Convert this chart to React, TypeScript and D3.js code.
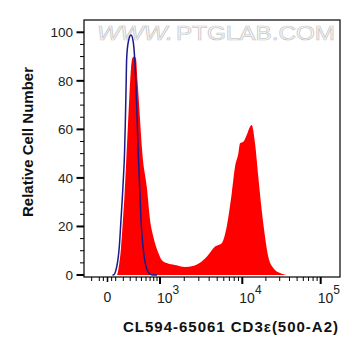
import React from "react";
import * as d3 from "d3";

// ---- data ----
const redIntensity = [60, 116, 142, 168, 195, 216, 237, 259, 286, 312, 337, 366, 397, 424, 438, 472, 520, 618, 699, 788, 945, 1050, 1215, 1540, 2040, 2550, 3100, 3740, 4700, 5660, 6500, 7470, 8180, 8960, 9390, 10300, 11380, 12540, 13180, 14530, 16000, 17680, 19490, 21470, 24860, 30270, 37170];
const redCount = [0, 0, 4, 11, 23, 33, 45, 58, 73, 85, 89.5, 90, 89, 80, 75.5, 64, 50, 36.4, 22.7, 15.8, 9.1, 6.2, 4.9, 4.1, 3.3, 3.7, 5, 7.5, 11.7, 13.1, 19.9, 33.7, 44.6, 50.1, 54.3, 54.9, 57.7, 61.1, 61.8, 54.3, 40.5, 26.8, 15.8, 7.5, 2.9, 0.8, 0];
const blueIntensity = [60, 70, 113, 146, 168, 199, 216, 227, 237, 247, 271, 312, 349, 373, 400, 420, 438, 464, 491, 533, 602, 699, 779, 900];
const blueCount = [0, 0, 3.4, 11.7, 22.7, 39, 50, 62, 75.5, 89.3, 96.1, 98.9, 96.1, 89.3, 75.5, 62, 50, 36.4, 22.7, 11.7, 3.4, 0.4, 0, 0];

const yMajorTicks = [0, 20, 40, 60, 80, 100];
const yMinorTicks = [5, 10, 15, 25, 30, 35, 45, 50, 55, 65, 70, 75, 85, 90, 95];
const xDecadeTicks = [1e3, 1e4, 1e5];
const xDecadeExponents = ["3", "4", "5"];
const xZeroTicks = [0];
const xZeroLabels = ["0"];
const xMinorTicks = [-200, -100, -50, 50, 100, 200, 300, 400, 500, 600, 700, 800, 900,
  2000, 3000, 4000, 5000, 6000, 7000, 8000, 9000,
  20000, 30000, 40000, 50000, 60000, 70000, 80000, 90000];

const xTitle = "CL594-65061  CD3\u03b5(500-A2)";
const yTitle = "Relative Cell Number";
const watermarkA = "WWW.";
const watermarkB = "PTGLAB.COM";

// ---- layout ----
const W = 361, H = 356;
const left = 84, right = 340, top = 20, bottom = 277;
const FONT = "'Liberation Sans', Arial, Helvetica, sans-serif";

// biexponential-like display transform
const C = 365.8;
const T = (v: number) => Math.asinh(v / C);
const xScale = d3.scaleLinear()
  .domain([0, 1e3, 1e4, 1e5].map(T))
  .range([107.5, 160, 242.3, 320.7]);
const x = (v: number) => xScale(T(v));
const y = d3.scaleLinear().domain([0, 100]).range([275, 32.3]);

export default function App() {
  const red: [number, number][] = redIntensity.map((v, i) => [v, redCount[i]]);
  const blue: [number, number][] = blueIntensity.map((v, i) => [v, blueCount[i]]);

  const area = d3.area<[number, number]>()
    .x(d => x(d[0]))
    .y0(y(0))
    .y1(d => y(d[1]))
    .curve(d3.curveMonotoneX);
  const line = d3.line<[number, number]>()
    .x(d => x(d[0]))
    .y(d => y(d[1]))
    .curve(d3.curveMonotoneX);

  return (
    <svg width={W} height={H} style={{ position: "absolute", left: 0, top: 0, background: "#fff" }}
      fontFamily={FONT}>
      <defs>
        <clipPath id="plotClip">
          <rect x={left} y={top} width={right - left} height={bottom - top} />
        </clipPath>
      </defs>
      <rect x={0} y={0} width={W} height={H} fill="#fff" />

      {/* watermark */}
      <text x={97} y={40} fontSize={20} fontStyle="italic" textLength={76} lengthAdjust="spacingAndGlyphs"
        fill="#fafafa" stroke="#c8c8c8" strokeWidth={0.7}>{watermarkA}</text>
      <text x={176} y={40} fontSize={20} textLength={159} lengthAdjust="spacingAndGlyphs"
        fill="#fafafa" stroke="#c8c8c8" strokeWidth={0.7}>{watermarkB}</text>

      <g clipPath="url(#plotClip)">
        <path d={area(red) || ""} fill="#ff0000" />
        <path d={line(blue) || ""} fill="none" stroke="#1a1a8c" strokeWidth={1.5} />
      </g>

      {/* frame */}
      <rect x={left} y={top} width={right - left} height={bottom - top} fill="none" stroke="#000" strokeWidth={1.2} />

      {/* y ticks */}
      {yMinorTicks.map(t => (
        <line key={"ym" + t} x1={left - 4} x2={left} y1={y(t)} y2={y(t)} stroke="#000" strokeWidth={1} />
      ))}
      {yMajorTicks.map(t => (
        <g key={"yM" + t}>
          <line x1={left - 7.5} x2={left} y1={y(t)} y2={y(t)} stroke="#000" strokeWidth={2} />
          <text x={73} y={y(t)} dy="0.36em" textAnchor="end" fontSize={13.5} fill="#222">{t}</text>
        </g>
      ))}

      {/* x ticks */}
      {xMinorTicks.map(t => (
        <line key={"xm" + t} x1={x(t)} x2={x(t)} y1={bottom} y2={bottom + 4} stroke="#000" strokeWidth={1} />
      ))}
      {xZeroTicks.map((t, i) => (
        <g key={"xz" + t}>
          <line x1={x(t)} x2={x(t)} y1={bottom} y2={bottom + 5} stroke="#000" strokeWidth={1.5} />
          <text x={x(t)} y={302} textAnchor="middle" fontSize={14} fill="#222">{xZeroLabels[i]}</text>
        </g>
      ))}
      {xDecadeTicks.map((t, i) => (
        <g key={"xM" + t}>
          <line x1={x(t)} x2={x(t)} y1={bottom} y2={bottom + 7} stroke="#000" strokeWidth={2} />
          <text x={x(t) - 3} y={302.5} fontSize={14} fill="#222">
            10<tspan dy={-8.5} fontSize={12}>{xDecadeExponents[i]}</tspan>
          </text>
        </g>
      ))}

      {/* titles */}
      <text x={123} y={332} fontSize={15} fontWeight="bold" fill="#111"
        textLength={215} lengthAdjust="spacing">{xTitle}</text>
      <text transform={`translate(32.5, 217) rotate(-90)`} fontSize={15} fontWeight="bold" fill="#111"
        textLength={150} lengthAdjust="spacing">{yTitle}</text>
    </svg>
  );
}
